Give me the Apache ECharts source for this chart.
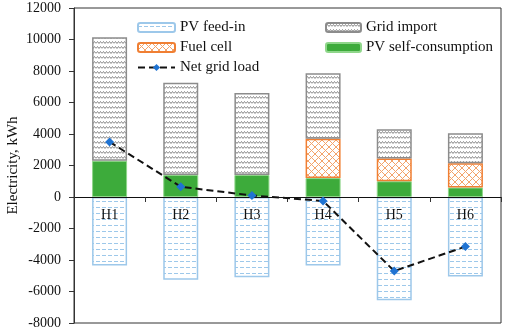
<!DOCTYPE html>
<html>
<head>
<meta charset="utf-8">
<script src="https://cdn.jsdelivr.net/npm/echarts@6/dist/echarts.min.js"></script>
<style>
  html, body { margin: 0; padding: 0; background: #fff; }
  #chart { width: 505px; height: 332px; }
</style>
</head>
<body>
<div id="chart"></div>
<script>
const categories = ['H1', 'H2', 'H3', 'H4', 'H5', 'H6']
const pvSelf = [2300, 1400, 1400, 1200, 1000, 600]
const fuelCell = ['-', '-', '-', 2500, 1450, 1550]
const gridImport = [7850, 5850, 5200, 4150, 1850, 1900]
const pvFeedIn = [-4350, -5250, -5100, -4350, -6550, -5050]
const netLoad = [3500, 650, 100, -250, -4700, -3150]

const FONT = 'Liberation Serif'

// little canvas tiles for the hatch fills
const makeTile = (w, h, draw) => {
  const c = document.createElement('canvas')
  c.width = w
  c.height = h
  const ctx = c.getContext('2d')
  ctx.fillStyle = '#fff'
  ctx.fillRect(0, 0, w, h)
  draw(ctx)
  return { image: c, repeat: 'repeat' }
}

const zigzag = makeTile(6, 5, ctx => {
  ctx.strokeStyle = '#8a8a8a'
  ctx.lineWidth = 1
  ctx.beginPath()
  ctx.moveTo(0, 3.5)
  ctx.lineTo(1.5, 1.5)
  ctx.lineTo(3, 3.5)
  ctx.lineTo(4.5, 1.5)
  ctx.lineTo(6, 3.5)
  ctx.stroke()
})

const cross = makeTile(7, 7, ctx => {
  ctx.strokeStyle = '#f3a46b'
  ctx.lineWidth = 1
  ctx.beginPath()
  ctx.moveTo(0, 0); ctx.lineTo(7, 7)
  ctx.moveTo(7, 0); ctx.lineTo(0, 7)
  ctx.stroke()
})

const dashes = makeTile(6, 6, ctx => {
  ctx.strokeStyle = '#9dc8ea'
  ctx.lineWidth = 1
  ctx.beginPath()
  ctx.moveTo(0, 3.5); ctx.lineTo(4, 3.5)
  ctx.stroke()
})

const myChart = echarts.init(document.getElementById('chart'))

const option = {
  animation: false,
  textStyle: { fontFamily: FONT },
  grid: {
    left: 74,
    right: 4,
    top: 8,
    bottom: 9,
    containLabel: false,
    outerBoundsMode: 'none',
    show: true,
    borderColor: '#333',
    borderWidth: 1
  },
  legend: [
    {
      left: 132,
      top: 15,
      orient: 'vertical',
      itemWidth: 37,
      itemHeight: 9,
      itemGap: 5,
      textStyle: { fontFamily: FONT, fontSize: 15, color: '#111' },
      data: ['PV feed-in', 'Fuel cell', 'Net grid load']
    },
    {
      left: 320,
      top: 15,
      orient: 'vertical',
      itemWidth: 35,
      itemHeight: 9,
      itemGap: 5,
      textStyle: { fontFamily: FONT, fontSize: 15, color: '#111' },
      data: ['Grid import', 'PV self-consumption']
    }
  ],
  xAxis: {
    type: 'category',
    data: categories,
    // axis sits on the zero line (126px above the grid bottom)
    offset: -126,
    z: 10,
    axisLine: { onZero: false, lineStyle: { color: '#111', width: 1 } },
    axisTick: { show: true, length: 5, lineStyle: { color: '#333' } },
    axisLabel: { color: '#111', fontSize: 14, fontFamily: FONT, margin: 11 }
  },
  yAxis: {
    type: 'value',
    min: -8000,
    max: 12000,
    interval: 2000,
    name: 'Electricity, kWh',
    nameLocation: 'middle',
    nameGap: 53,
    nameMoveOverlap: false,
    nameTextStyle: { fontFamily: FONT, fontSize: 15, color: '#111' },
    axisLine: { show: true, lineStyle: { color: '#333' } },
    axisTick: { show: true, length: 5, lineStyle: { color: '#333' } },
    axisLabel: {
      color: '#111',
      fontSize: 14,
      fontFamily: FONT,
      margin: 13,
      formatter: v => String(v)
    },
    splitLine: { show: false }
  },
  series: [
    {
      name: 'PV self-consumption',
      type: 'bar',
      stack: 'e',
      barWidth: 35,
      data: pvSelf,
      itemStyle: { color: '#3dab3b', borderColor: '#8fd68a', borderWidth: 1 }
    },
    {
      name: 'Fuel cell',
      type: 'bar',
      stack: 'e',
      data: fuelCell,
      itemStyle: { color: cross, borderColor: '#f07f33', borderWidth: 1.5 }
    },
    {
      name: 'Grid import',
      type: 'bar',
      stack: 'e',
      data: gridImport,
      itemStyle: { color: zigzag, borderColor: '#8c8c8c', borderWidth: 1.5 }
    },
    {
      name: 'PV feed-in',
      type: 'bar',
      stack: 'e',
      data: pvFeedIn,
      itemStyle: { color: dashes, borderColor: '#9dc8ea', borderWidth: 1.5 }
    },
    {
      name: 'Net grid load',
      type: 'line',
      data: netLoad,
      symbol: 'diamond',
      symbolSize: 9,
      itemStyle: { color: '#1f73d2' },
      lineStyle: { color: '#111', width: 2, type: [7, 4] },
      z: 12
    }
  ]
}

myChart.setOption(option)
window.addEventListener('resize', () => myChart.resize())
</script>
</body>
</html>
